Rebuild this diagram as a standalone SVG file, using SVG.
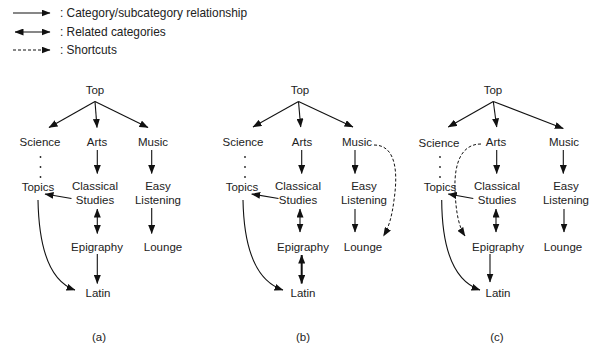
<svg xmlns="http://www.w3.org/2000/svg" width="590" height="345" viewBox="0 0 590 345">
<defs>
<marker id="ah" markerUnits="userSpaceOnUse" markerWidth="9" markerHeight="7" refX="8.5" refY="3.5" orient="auto-start-reverse" viewBox="0 0 9 7"><path d="M0,0 L9,3.5 L0,7 z" fill="#111"/></marker>
</defs>
<style>
text{font-family:"Liberation Sans",Arial,sans-serif;font-size:11.5px;fill:#222;text-anchor:middle}
.lg{text-anchor:start;font-size:11.9px}
.e{fill:none;stroke:#111;stroke-width:1.1;marker-end:url(#ah)}
.d{fill:none;stroke:#111;stroke-width:1.1;marker-start:url(#ah);marker-end:url(#ah)}
.t{stroke-width:2}
.s{fill:none;stroke:#111;stroke-width:1;stroke-dasharray:3,2;marker-end:url(#ah)}
.dot{fill:#222}
</style>
<g id="legend">
<line class="e" x1="13" y1="13" x2="50" y2="13"/>
<text class="lg" x="60" y="17">: Category/subcategory relationship</text>
<line class="d" x1="15" y1="32" x2="50" y2="32"/>
<text class="lg" x="60" y="36">: Related categories</text>
<line class="s" x1="13" y1="50" x2="50" y2="50"/>
<text class="lg" x="60" y="54">: Shortcuts</text>
</g>
<g id="panel-a">
<g id="a-top"><text x="95" y="94">Top</text></g>
<g id="a-science"><text x="40" y="146">Science</text></g>
<g id="a-arts"><text x="97" y="146">Arts</text></g>
<g id="a-music"><text x="153" y="146">Music</text></g>
<g id="a-topics"><text x="38" y="191">Topics</text></g>
<g id="a-classical"><text x="95" y="190">Classical</text><text x="95" y="204">Studies</text></g>
<g id="a-easy"><text x="158" y="190">Easy</text><text x="158" y="204">Listening</text></g>
<g id="a-epigraphy"><text x="97" y="251">Epigraphy</text></g>
<g id="a-lounge"><text x="163" y="251">Lounge</text></g>
<g id="a-latin"><text x="98" y="297">Latin</text></g>
<g id="a-dots" class="dot"><circle cx="40.5" cy="157" r="0.9"/><circle cx="40.5" cy="167" r="0.9"/><circle cx="40.5" cy="177" r="0.9"/></g>
<text x="99" y="341">(a)</text>
</g>
<g id="panel-b">
<g id="b-top"><text x="300" y="94">Top</text></g>
<g id="b-science"><text x="243" y="146">Science</text></g>
<g id="b-arts"><text x="302" y="146">Arts</text></g>
<g id="b-music"><text x="357" y="146">Music</text></g>
<g id="b-topics"><text x="242" y="191">Topics</text></g>
<g id="b-classical"><text x="298" y="190">Classical</text><text x="298" y="204">Studies</text></g>
<g id="b-easy"><text x="364" y="190">Easy</text><text x="364" y="204">Listening</text></g>
<g id="b-epigraphy"><text x="303" y="251">Epigraphy</text></g>
<g id="b-lounge"><text x="363" y="251">Lounge</text></g>
<g id="b-latin"><text x="303" y="297">Latin</text></g>
<g id="b-dots" class="dot"><circle cx="245" cy="157" r="0.9"/><circle cx="245" cy="167" r="0.9"/><circle cx="245" cy="177" r="0.9"/></g>
<text x="303" y="341">(b)</text>
</g>
<g id="panel-c">
<g id="c-top"><text x="493" y="94">Top</text></g>
<g id="c-science"><text x="439" y="147">Science</text></g>
<g id="c-arts"><text x="496" y="146">Arts</text></g>
<g id="c-music"><text x="564" y="146">Music</text></g>
<g id="c-topics"><text x="440" y="191">Topics</text></g>
<g id="c-classical"><text x="497" y="190">Classical</text><text x="497" y="204">Studies</text></g>
<g id="c-easy"><text x="566" y="190">Easy</text><text x="566" y="204">Listening</text></g>
<g id="c-epigraphy"><text x="498" y="251">Epigraphy</text></g>
<g id="c-lounge"><text x="563" y="251">Lounge</text></g>
<g id="c-latin"><text x="498" y="297">Latin</text></g>
<g id="c-dots" class="dot"><circle cx="440" cy="157" r="0.9"/><circle cx="440" cy="167" r="0.9"/><circle cx="440" cy="177" r="0.9"/></g>
<text x="497" y="341">(c)</text>
</g>
<g id="connectors">
<line class="e" x1="95" y1="101.5" x2="49" y2="127.5"/>
<line class="e" x1="95" y1="101.5" x2="97" y2="127.5"/>
<line class="e" x1="95" y1="101.5" x2="148" y2="127.5"/>
<line class="e" x1="97.3" y1="150" x2="97.3" y2="173.5"/>
<line class="e" x1="151.7" y1="150" x2="151.7" y2="173.5"/>
<line class="e" x1="71.5" y1="198.5" x2="45" y2="194"/>
<line class="d" x1="97.3" y1="209" x2="97.3" y2="233.5"/>
<line class="e" x1="151.7" y1="208" x2="151.7" y2="233.5"/>
<line class="e" x1="97.3" y1="254" x2="97.3" y2="283.5"/>
<path class="e" d="M38,200 C39,255 52,282 75,290"/>
<line class="e" x1="298.5" y1="101.5" x2="253" y2="127"/>
<line class="e" x1="298.5" y1="101.5" x2="300.7" y2="127"/>
<line class="e" x1="298.5" y1="101.5" x2="353" y2="127"/>
<line class="e" x1="301.7" y1="150" x2="301.7" y2="173.5"/>
<line class="e" x1="355" y1="150" x2="355" y2="173.5"/>
<line class="e" x1="278.5" y1="198.5" x2="251.7" y2="194"/>
<line class="d" x1="300" y1="209" x2="300" y2="232"/>
<line class="e" x1="355" y1="209" x2="355" y2="232"/>
<line class="d t" x1="301.7" y1="255" x2="301.7" y2="283.5"/>
<path class="e" d="M243,200 C244,255 259,282 283,290"/>
<path class="s" d="M374,145 C399,145 397,180 394,200 C392,216 389,227 383.5,236"/>
<line class="e" x1="493.3" y1="101.5" x2="448.3" y2="127"/>
<line class="e" x1="493.3" y1="101.5" x2="496.7" y2="127"/>
<line class="e" x1="493.3" y1="101.5" x2="563.3" y2="128.5"/>
<line class="e" x1="496.7" y1="150" x2="496.7" y2="173.5"/>
<line class="e" x1="563.3" y1="150" x2="563.3" y2="173.5"/>
<line class="e" x1="473.3" y1="198.5" x2="448.3" y2="194"/>
<line class="d" x1="496" y1="209" x2="496" y2="232"/>
<line class="e" x1="564" y1="209" x2="564" y2="232"/>
<line class="e" x1="490" y1="254" x2="490" y2="282"/>
<path class="e" d="M441.7,200 C442,255 457,282 480,290"/>
<path class="s" d="M481,144 C462,144 454,162 455,190 C456,214 459,227 465,236"/>
</g>
</svg>
